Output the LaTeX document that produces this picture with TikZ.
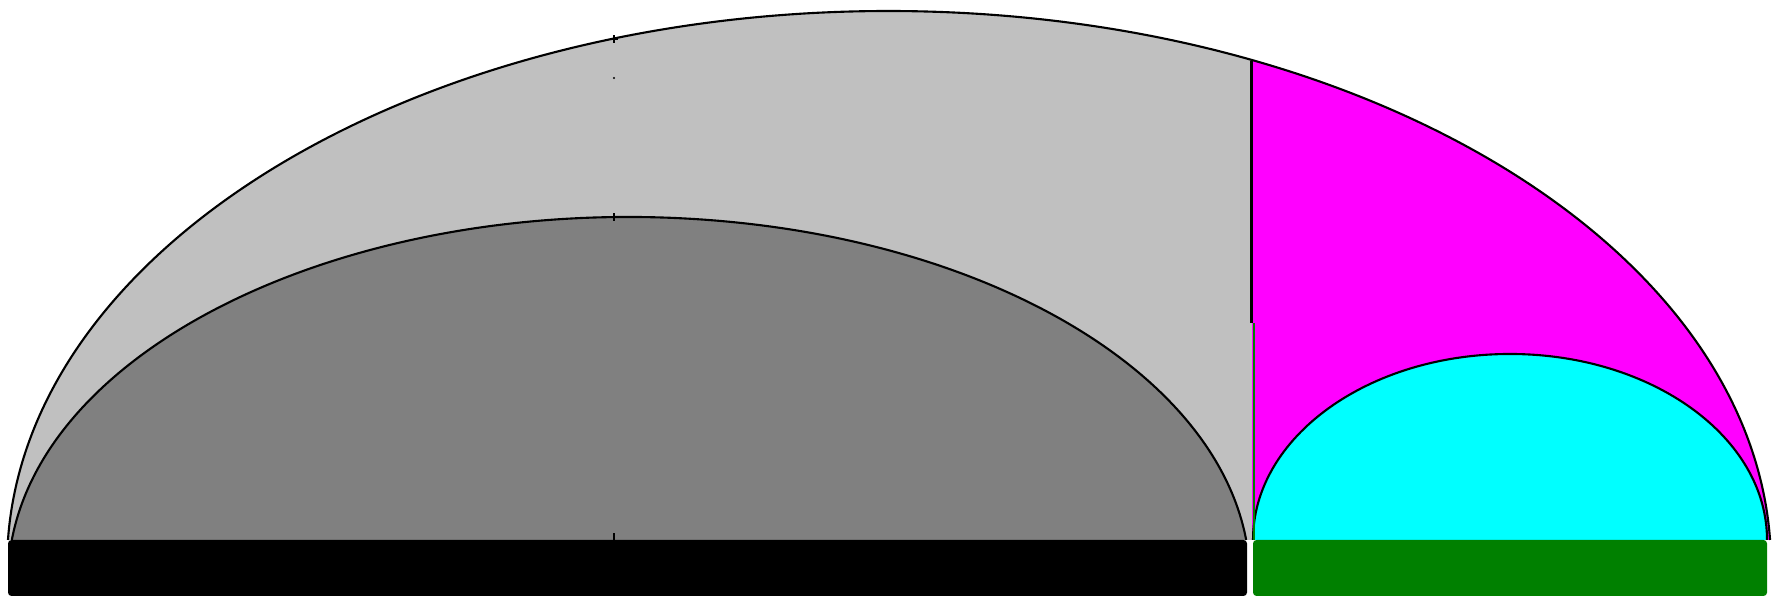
\documentclass[tikz,border=0pt]{standalone}
\usepackage{tikz}
\usepackage{xcolor}
\definecolor{LightGrey}{RGB}{192,192,192}
\definecolor{DarkGrey}{RGB}{128,128,128}
\definecolor{Magenta}{RGB}{255,0,255}
\definecolor{Cyan}{RGB}{0,255,255}
\definecolor{DarkGreen}{RGB}{0,128,0}

\begin{document}
\begin{tikzpicture}[
    outline/.style={draw=black, line width=0.6pt},
    tick/.style={black, line width=0.8pt}
  ]
    \useasboundingbox (0,0) rectangle (17.73,5.96);

    % Centres of the curves
    \coordinate (bigC) at (8.89,0.31);
    \coordinate (innerC) at (6.29,0.16);
    \coordinate (smallC) at (15.10,0.56);

    % Outer curve
    \fill[LightGrey] (bigC) ++(177.41:8.82 and 5.54)
      arc[start angle=177.41, end angle=2.59, x radius=8.82, y radius=5.54] -- cycle;
    \begin{scope}
      \clip (12.52,0.56) rectangle (17.73,5.96);
      \fill[Magenta] (bigC) ++(177.41:8.82 and 5.54)
        arc[start angle=177.41, end angle=2.59, x radius=8.82, y radius=5.54] -- cycle;
    \end{scope}
    \draw[outline] (bigC) ++(177.41:8.82 and 5.54)
      arc[start angle=177.41, end angle=2.59, x radius=8.82, y radius=5.54];

    % Inner curve
    \fill[DarkGrey] (innerC) ++(173.67:6.21 and 3.63)
      arc[start angle=173.67, end angle=6.33, x radius=6.21, y radius=3.63] -- cycle;
    \draw[outline] (innerC) ++(173.67:6.21 and 3.63)
      arc[start angle=173.67, end angle=6.33, x radius=6.21, y radius=3.63];

    % Small curve
    \fill[Cyan] (smallC) ++(180:2.57 and 1.86)
      arc[start angle=180, end angle=0, x radius=2.57, y radius=1.86] -- cycle;
    \draw[outline] (smallC) ++(180:2.57 and 1.86)
      arc[start angle=180, end angle=0, x radius=2.57, y radius=1.86];

    % Divider
    \coordinate (dtop) at (12.515,5.35);
    \coordinate (dmid) at (12.515,2.73);
    \coordinate (dbot) at (12.54,0.56);
    \draw[outline] (dtop) -- (dmid);
    \draw[DarkGreen, line width=0.6pt] (dmid -| dbot) -- (dbot);

    % Bars
    \fill[black, rounded corners=1pt] (0.08,0) rectangle (12.47,0.56);
    \fill[DarkGreen, rounded corners=1pt] (12.53,0) rectangle (17.67,0.56);

    % Marks
    \draw[tick] (6.14,0.56) -- (6.14,0.63);
    \draw[tick] (6.14,3.75) -- (6.14,3.83);
    \draw[tick] (6.10,5.57) -- (6.18,5.57);
    \draw[tick] (6.14,5.53) -- (6.14,5.61);
    \fill (6.14,5.18) circle[radius=0.012];
  \end{tikzpicture}
\end{document}
